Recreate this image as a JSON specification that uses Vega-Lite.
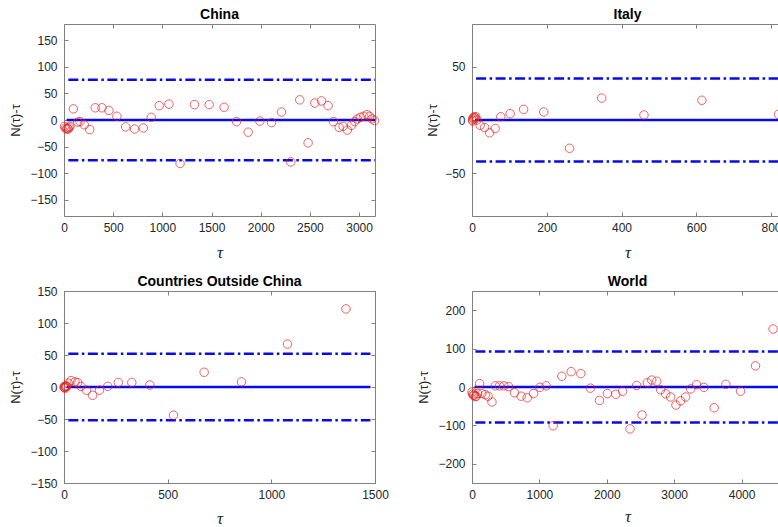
{
  "$schema": "https://vega.github.io/schema/vega-lite/v6.json",
  "autosize": "none",
  "padding": {"left": 64, "top": 24, "right": 714, "bottom": 503},
  "background": "white",
  "columns": 2,
  "spacing": {"column": 97, "row": 75},
  "bounds": "flush",
  "config": {
    "font": "Liberation Sans",
    "view": {"stroke": "#808080", "strokeWidth": 1},
    "axis": {"grid": false, "domain": false, "tickColor": "#808080", "tickSize": -4, "tickWidth": 1, "labelFontSize": 12, "labelColor": "#262626", "labelFont": "Liberation Sans", "labelFlush": false, "labelOverlap": false, "format": "d", "titleFontWeight": "normal", "titleColor": "#262626"},
    "title": {"fontSize": 14, "fontWeight": "bold", "color": "#000000", "offset": 2, "font": "Liberation Sans"}
  },
  "concat": [
    {
      "title": "China",
      "width": 311, "height": 192,
      "layer": [
        {"data": {"values": [{"x1": 44, "x2": 3162, "y": 76}, {"x1": 44, "x2": 3162, "y": -76}]},
         "mark": {"type": "rule", "color": "#0a0ae6", "strokeWidth": 2.5, "strokeDash": [10, 3.5, 2.5, 3.5]},
         "encoding": {
           "x": {"field": "x1", "type": "quantitative", "scale": {"domain": [0, 3162], "nice": false, "zero": false}, "axis": {"orient": "top", "values": [0, 500, 1000, 1500, 2000, 2500, 3000], "labels": false, "title": null}},
           "x2": {"field": "x2"},
           "y": {"field": "y", "type": "quantitative", "scale": {"domain": [-181, 181], "nice": false, "zero": false}, "axis": {"orient": "right", "values": [-150, -100, -50, 0, 50, 100, 150], "labels": false, "title": null}}
         }},
        {"data": {"values": [{"x1": 27, "x2": 3162, "y": 0}]},
         "mark": {"type": "rule", "color": "#0a0ae6", "strokeWidth": 2.5},
         "encoding": {
           "x": {"field": "x1", "type": "quantitative", "axis": null},
           "x2": {"field": "x2"},
           "y": {"field": "y", "type": "quantitative", "axis": null}
         }},
        {"data": {"values": [
          {"t": 5, "v": -12}, {"t": 15, "v": -15}, {"t": 25, "v": -17}, {"t": 35, "v": -16}, {"t": 44, "v": -17}, {"t": 52, "v": -14}, {"t": 61, "v": -12}, {"t": 95, "v": 21}, {"t": 139, "v": -4}, {"t": 163, "v": -3}, {"t": 206, "v": -9}, {"t": 261, "v": -18}, {"t": 318, "v": 23}, {"t": 386, "v": 23}, {"t": 457, "v": 18}, {"t": 538, "v": 7}, {"t": 627, "v": -13}, {"t": 718, "v": -17}, {"t": 806, "v": -15}, {"t": 887, "v": 5}, {"t": 968, "v": 27}, {"t": 1067, "v": 30}, {"t": 1180, "v": -82}, {"t": 1327, "v": 29}, {"t": 1476, "v": 29}, {"t": 1628, "v": 24}, {"t": 1754, "v": -3}, {"t": 1872, "v": -23}, {"t": 1991, "v": -2}, {"t": 2110, "v": -5}, {"t": 2211, "v": 15}, {"t": 2306, "v": -79}, {"t": 2397, "v": 38}, {"t": 2482, "v": -43}, {"t": 2550, "v": 32}, {"t": 2618, "v": 36}, {"t": 2685, "v": 27}, {"t": 2739, "v": -3}, {"t": 2797, "v": -14}, {"t": 2838, "v": -12}, {"t": 2881, "v": -19}, {"t": 2922, "v": -10}, {"t": 2956, "v": -3}, {"t": 2983, "v": 2}, {"t": 3014, "v": 5}, {"t": 3048, "v": 7}, {"t": 3081, "v": 10}, {"t": 3108, "v": 7}, {"t": 3132, "v": 2}, {"t": 3158, "v": -1}
        ]},
         "mark": {"type": "point", "shape": "circle", "filled": false, "color": "#e8201e", "size": 72, "strokeWidth": 1},
         "encoding": {
           "x": {"field": "t", "type": "quantitative", "axis": {"orient": "bottom", "values": [0, 500, 1000, 1500, 2000, 2500, 3000], "labelPadding": 10, "title": "τ", "titleFont": "Liberation Serif", "titleFontStyle": "italic", "titleFontSize": 17, "titlePadding": 11}},
           "y": {"field": "v", "type": "quantitative", "axis": {"orient": "left", "values": [-150, -100, -50, 0, 50, 100, 150], "labelPadding": 11, "title": "N(τ)-τ", "titleFontSize": 13, "titlePadding": 7}}
         }}
      ],
      "resolve": {"axis": {"x": "independent", "y": "independent"}}
    },
    {
      "title": "Italy",
      "width": 311, "height": 192,
      "layer": [
        {"data": {"values": [{"x1": 11, "x2": 840, "y": 39}, {"x1": 11, "x2": 840, "y": -39}]},
         "mark": {"type": "rule", "color": "#0a0ae6", "strokeWidth": 2.5, "strokeDash": [10, 3.5, 2.5, 3.5]},
         "encoding": {
           "x": {"field": "x1", "type": "quantitative", "scale": {"domain": [0, 832], "nice": false, "zero": false}, "axis": {"orient": "top", "values": [0, 200, 400, 600, 800], "labels": false, "title": null}},
           "x2": {"field": "x2"},
           "y": {"field": "y", "type": "quantitative", "scale": {"domain": [-90, 90], "nice": false, "zero": false}, "axis": {"orient": "right", "values": [-50, 0, 50], "labels": false, "title": null}}
         }},
        {"data": {"values": [{"x1": 8, "x2": 840, "y": 0}]},
         "mark": {"type": "rule", "color": "#0a0ae6", "strokeWidth": 2.5},
         "encoding": {
           "x": {"field": "x1", "type": "quantitative", "axis": null},
           "x2": {"field": "x2"},
           "y": {"field": "y", "type": "quantitative", "axis": null}
         }},
        {"data": {"values": [
          {"t": 1, "v": 0}, {"t": 2, "v": -1}, {"t": 3, "v": 2}, {"t": 4, "v": 1}, {"t": 6, "v": 3}, {"t": 8, "v": 2}, {"t": 10, "v": 3}, {"t": 13, "v": 0}, {"t": 22, "v": -5}, {"t": 34, "v": -7}, {"t": 47, "v": -12}, {"t": 62, "v": -8}, {"t": 77, "v": 3}, {"t": 102, "v": 6}, {"t": 138, "v": 10}, {"t": 192, "v": 7.5}, {"t": 261, "v": -26.5}, {"t": 347, "v": 20.5}, {"t": 460, "v": 4.7}, {"t": 615, "v": 18.5}, {"t": 820, "v": 5.3}
        ]},
         "mark": {"type": "point", "shape": "circle", "filled": false, "color": "#e8201e", "size": 72, "strokeWidth": 1},
         "encoding": {
           "x": {"field": "t", "type": "quantitative", "axis": {"orient": "bottom", "values": [0, 200, 400, 600, 800], "labelPadding": 10, "title": "τ", "titleFont": "Liberation Serif", "titleFontStyle": "italic", "titleFontSize": 17, "titlePadding": 11}},
           "y": {"field": "v", "type": "quantitative", "axis": {"orient": "left", "values": [-50, 0, 50], "labelPadding": 11, "title": "N(τ)-τ", "titleFontSize": 13, "titlePadding": 5}}
         }}
      ],
      "resolve": {"axis": {"x": "independent", "y": "independent"}}
    },
    {
      "title": {"text": "Countries Outside China", "offset": -4},
      "width": 311, "height": 192,
      "layer": [
        {"data": {"values": [{"x1": 21, "x2": 1478, "y": 52}, {"x1": 21, "x2": 1478, "y": -52}]},
         "mark": {"type": "rule", "color": "#0a0ae6", "strokeWidth": 2.5, "strokeDash": [10, 3.5, 2.5, 3.5]},
         "encoding": {
           "x": {"field": "x1", "type": "quantitative", "scale": {"domain": [0, 1500], "nice": false, "zero": false}, "axis": {"orient": "top", "values": [0, 500, 1000, 1500], "labels": false, "title": null}},
           "x2": {"field": "x2"},
           "y": {"field": "y", "type": "quantitative", "scale": {"domain": [-150, 150], "nice": false, "zero": false}, "axis": {"orient": "right", "values": [-150, -100, -50, 0, 50, 100, 150], "labels": false, "title": null}}
         }},
        {"data": {"values": [{"x1": 13, "x2": 1478, "y": 0}]},
         "mark": {"type": "rule", "color": "#0a0ae6", "strokeWidth": 2.5},
         "encoding": {
           "x": {"field": "x1", "type": "quantitative", "axis": null},
           "x2": {"field": "x2"},
           "y": {"field": "y", "type": "quantitative", "axis": null}
         }},
        {"data": {"values": [
          {"t": 0, "v": 0}, {"t": 2, "v": -1}, {"t": 4, "v": 1}, {"t": 6, "v": -2}, {"t": 8, "v": 0}, {"t": 10, "v": 2}, {"t": 13, "v": 1}, {"t": 21, "v": 6}, {"t": 34, "v": 10}, {"t": 53, "v": 8}, {"t": 66, "v": 7}, {"t": 82, "v": 1}, {"t": 109, "v": -5}, {"t": 138, "v": -13}, {"t": 171, "v": -5}, {"t": 211, "v": 1}, {"t": 262, "v": 7}, {"t": 327, "v": 7}, {"t": 414, "v": 3}, {"t": 528, "v": -44}, {"t": 676, "v": 23}, {"t": 856, "v": 8}, {"t": 1078, "v": 67}, {"t": 1360, "v": 122}
        ]},
         "mark": {"type": "point", "shape": "circle", "filled": false, "color": "#e8201e", "size": 72, "strokeWidth": 1},
         "encoding": {
           "x": {"field": "t", "type": "quantitative", "axis": {"orient": "bottom", "values": [0, 500, 1000, 1500], "labelPadding": 10, "title": "τ", "titleFont": "Liberation Serif", "titleFontStyle": "italic", "titleFontSize": 17, "titlePadding": 10}},
           "y": {"field": "v", "type": "quantitative", "axis": {"orient": "left", "values": [-150, -100, -50, 0, 50, 100, 150], "labelPadding": 11, "title": "N(τ)-τ", "titleFontSize": 13, "titlePadding": 7}}
         }}
      ],
      "resolve": {"axis": {"x": "independent", "y": "independent"}}
    },
    {
      "title": "World",
      "width": 311, "height": 192,
      "layer": [
        {"data": {"values": [{"x1": 50, "x2": 4615, "y": 92.5}, {"x1": 50, "x2": 4615, "y": -92.5}]},
         "mark": {"type": "rule", "color": "#0a0ae6", "strokeWidth": 2.5, "strokeDash": [10, 3.5, 2.5, 3.5]},
         "encoding": {
           "x": {"field": "x1", "type": "quantitative", "scale": {"domain": [0, 4615], "nice": false, "zero": false}, "axis": {"orient": "top", "values": [0, 1000, 2000, 3000, 4000], "labels": false, "title": null}},
           "x2": {"field": "x2"},
           "y": {"field": "y", "type": "quantitative", "scale": {"domain": [-250, 250], "nice": false, "zero": false}, "axis": {"orient": "right", "values": [-200, -100, 0, 100, 200], "labels": false, "title": null}}
         }},
        {"data": {"values": [{"x1": 39, "x2": 4615, "y": 0}]},
         "mark": {"type": "rule", "color": "#0a0ae6", "strokeWidth": 2.5},
         "encoding": {
           "x": {"field": "x1", "type": "quantitative", "axis": null},
           "x2": {"field": "x2"},
           "y": {"field": "y", "type": "quantitative", "axis": null}
         }},
        {"data": {"values": [
          {"t": 0, "v": -13}, {"t": 10, "v": -18}, {"t": 20, "v": -22}, {"t": 34, "v": -21}, {"t": 50, "v": -25}, {"t": 64, "v": -24}, {"t": 83, "v": -17}, {"t": 113, "v": 9}, {"t": 148, "v": -17}, {"t": 197, "v": -20}, {"t": 237, "v": -24}, {"t": 296, "v": -39}, {"t": 345, "v": 3}, {"t": 409, "v": 3}, {"t": 474, "v": 3}, {"t": 543, "v": 1}, {"t": 631, "v": -15}, {"t": 730, "v": -24}, {"t": 819, "v": -28}, {"t": 913, "v": -17}, {"t": 1007, "v": -1}, {"t": 1101, "v": 3}, {"t": 1204, "v": -101}, {"t": 1333, "v": 28}, {"t": 1471, "v": 40}, {"t": 1615, "v": 35}, {"t": 1757, "v": -3}, {"t": 1891, "v": -35}, {"t": 2009, "v": -17}, {"t": 2133, "v": -19}, {"t": 2235, "v": -11}, {"t": 2345, "v": -109}, {"t": 2444, "v": 4}, {"t": 2523, "v": -73}, {"t": 2602, "v": 11}, {"t": 2667, "v": 18}, {"t": 2741, "v": 15}, {"t": 2800, "v": -7}, {"t": 2874, "v": -18}, {"t": 2948, "v": -26}, {"t": 3027, "v": -47}, {"t": 3096, "v": -36}, {"t": 3170, "v": -26}, {"t": 3244, "v": -5}, {"t": 3333, "v": 6}, {"t": 3441, "v": -1}, {"t": 3594, "v": -54}, {"t": 3767, "v": 7}, {"t": 3985, "v": -11}, {"t": 4207, "v": 55}, {"t": 4468, "v": 151}
        ]},
         "mark": {"type": "point", "shape": "circle", "filled": false, "color": "#e8201e", "size": 72, "strokeWidth": 1},
         "encoding": {
           "x": {"field": "t", "type": "quantitative", "axis": {"orient": "bottom", "values": [0, 1000, 2000, 3000, 4000], "labelPadding": 10, "title": "τ", "titleFont": "Liberation Serif", "titleFontStyle": "italic", "titleFontSize": 17, "titlePadding": 8}},
           "y": {"field": "v", "type": "quantitative", "axis": {"orient": "left", "values": [-200, -100, 0, 100, 200], "labelPadding": 11, "title": "N(τ)-τ", "titleFontSize": 13, "titlePadding": 7}}
         }}
      ],
      "resolve": {"axis": {"x": "independent", "y": "independent"}}
    }
  ]
}
